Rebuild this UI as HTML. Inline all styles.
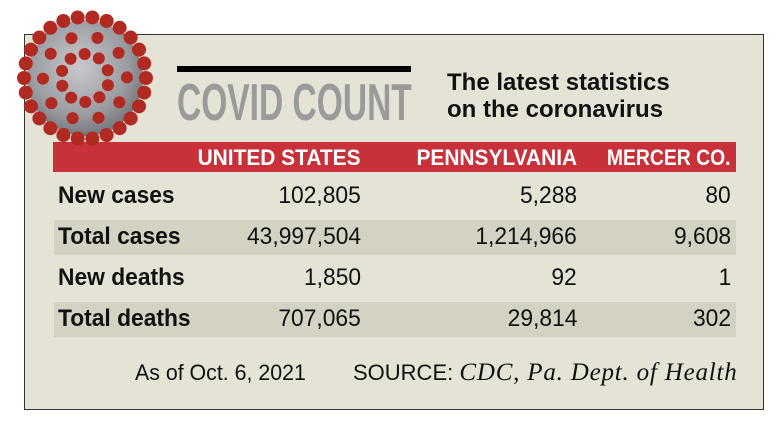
<!DOCTYPE html>
<html><head><meta charset="utf-8">
<style>
body{margin:0;width:782px;height:430px;background:#fff;overflow:hidden;position:relative;font-family:"Liberation Sans",sans-serif}
.abs{position:absolute}
.box{left:24px;top:34px;width:738px;height:374px;background:#e4e3d6;border:1px solid #333}
.num{position:absolute;text-align:right;font-size:24px;color:#111;white-space:nowrap;transform:scaleX(0.95);transform-origin:right}
.lbl{position:absolute;left:58px;font-size:24px;font-weight:bold;color:#111;white-space:nowrap;transform:scaleX(0.95);transform-origin:left}
.hdr{position:absolute;top:145px;font-size:22px;font-weight:bold;color:#fff;text-align:right;white-space:nowrap;transform:scaleX(0.95);transform-origin:right}
.band{position:absolute;left:54px;width:682px;height:35px;background:#d3d2c3}
</style></head><body>
<div class="abs box"></div>
<div class="abs" style="left:177px;top:66px;width:234px;height:6px;background:#000"></div>
<div class="abs" style="left:177px;top:74px;font-size:52px;line-height:58px;font-weight:bold;color:#9a9a9a;white-space:nowrap;transform:scaleX(0.645);transform-origin:left">COVID COUNT</div>
<div class="abs" style="left:447px;top:69px;font-size:24px;font-weight:bold;line-height:27px;color:#111;white-space:nowrap">The latest statistics<br>on the coronavirus</div>
<div class="abs" style="left:53px;top:142px;width:683px;height:30px;background:#c8303a"></div>
<div class="hdr" style="right:421px">UNITED STATES</div>
<div class="hdr" style="right:205px">PENNSYLVANIA</div>
<div class="hdr" style="right:51px;transform:scaleX(0.88)">MERCER CO.</div>
<div class="band" style="top:220px"></div>
<div class="band" style="top:302px"></div>
<div id="rows"></div>
<div class="abs" style="left:135px;top:360px;font-size:22px;color:#111;white-space:nowrap;transform:scaleX(0.97);transform-origin:left">As of Oct. 6, 2021</div>
<div class="abs" style="left:353px;top:359px;font-size:22px;color:#111;white-space:nowrap">SOURCE: <span style="font-family:'Liberation Serif',serif;font-style:italic;font-size:25px;letter-spacing:0.8px">CDC, Pa. Dept. of Health</span></div>
<svg class="abs" style="left:10px;top:8px" width="160" height="150">
<defs><radialGradient id="g" cx="45%" cy="40%" r="60%"><stop offset="0" stop-color="#c9c9cc"/><stop offset="0.7" stop-color="#9a9ca2"/><stop offset="1" stop-color="#75777c"/></radialGradient></defs>
<circle cx="75" cy="70" r="58" fill="url(#g)"/>
<g fill="#b02a22" id="spikes"></g>
</svg>
<script>
const rowLabels=["New cases","Total cases","New deaths","Total deaths"];
const usValues=["102,805","43,997,504","1,850","707,065"];
const paValues=["5,288","1,214,966","92","29,814"];
const mercerValues=["80","9,608","1","302"];
const rows=document.getElementById('rows');
const tops=[182,223,264,305];
rowLabels.forEach((l,i)=>{
 const d=document.createElement('div');d.className='lbl';d.style.top=tops[i]+'px';d.textContent=l;
 
 
 rows.appendChild(d);
 [[usValues,421],[paValues,205],[mercerValues,51]].forEach(([arr,r])=>{
  const n=document.createElement('div');n.className='num';n.style.top=tops[i]+'px';n.style.right=r+'px';n.textContent=arr[i];
  
  
  rows.appendChild(n);
 });
});
const sp=document.getElementById('spikes');
const ns='http://www.w3.org/2000/svg';
for(let k=0;k<26;k++){const a=k/26*Math.PI*2;const c=document.createElementNS(ns,'circle');
 c.setAttribute('cx',75+61*Math.cos(a));c.setAttribute('cy',70+61*Math.sin(a));c.setAttribute('r',7);sp.appendChild(c);}
for(let k=0;k<20;k++){const a=k/20*Math.PI*2+0.3;const rr=k%2?42:24;const c=document.createElementNS(ns,'circle');
 c.setAttribute('cx',75+rr*Math.cos(a));c.setAttribute('cy',70+rr*Math.sin(a));c.setAttribute('r',6);sp.appendChild(c);}
</script>
</body></html>
